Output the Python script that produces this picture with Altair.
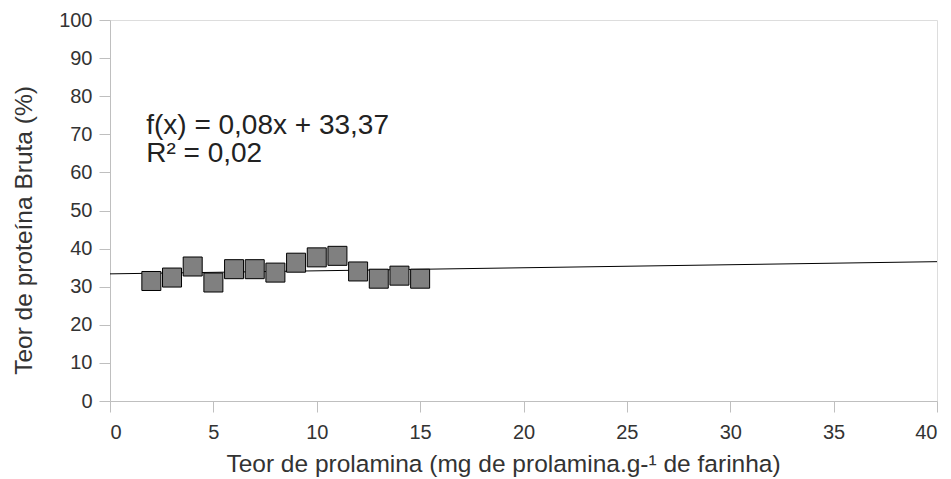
import altair as alt
import pandas as pd

x_vals = [2, 3, 4, 5, 6, 7, 8, 9, 10, 11, 12, 13, 14, 15]
y_vals = [31.5, 32.4, 35.3, 31.1, 34.6, 34.6, 33.7, 36.3, 37.7, 38.1, 34.0, 32.1, 32.9, 32.1]
slope = 0.08
intercept = 33.37
trend_x = [0, 40]
x_ticks = [0, 5, 10, 15, 20, 25, 30, 35, 40]
y_ticks = [0, 10, 20, 30, 40, 50, 60, 70, 80, 90, 100]
eq_lines = ["f(x) = 0,08x + 33,37", "R² = 0,02"]
eq_x = [1.75, 1.75]
eq_y = [70.2, 62.7]

pts = pd.DataFrame({"x": x_vals, "y": y_vals})
trend = pd.DataFrame({"x": trend_x, "y": [intercept + slope * v for v in trend_x]})
eq = pd.DataFrame({"x": eq_x, "y": eq_y, "t": eq_lines})

FONT = "Liberation Sans"
xs = alt.Scale(domain=[0, 40], nice=False, zero=False)
ys = alt.Scale(domain=[0, 100], nice=False)
XT = "Teor de prolamina (mg de prolamina.g-¹ de farinha)"
YT = "Teor de proteína Bruta (%)"

x_axis = alt.Axis(values=x_ticks, labelOverlap=False, titlePadding=10, labelPadding=10,
                  titleX=393, titleAlign="center", titleFontSize=24.5)
y_axis = alt.Axis(values=y_ticks, labelOverlap=False, titlePadding=22, labelPadding=7,
                  titleY=210, titleAlign="center", titleFontSize=24.5)

line = alt.Chart(trend).mark_line(color="#000000", strokeWidth=1).encode(
    x=alt.X("x:Q", scale=xs, axis=x_axis, title=XT),
    y=alt.Y("y:Q", scale=ys, axis=y_axis, title=YT),
)

squares = alt.Chart(pts).mark_square(size=361, fill="#808080", fillOpacity=1, stroke="#000000",
                                     strokeWidth=1).encode(
    x=alt.X("x:Q", scale=xs, axis=x_axis, title=XT),
    y=alt.Y("y:Q", scale=ys, axis=y_axis, title=YT),
)

text = alt.Chart(eq).mark_text(align="left", baseline="alphabetic", font=FONT, fontSize=28,
                               color="#222222").encode(
    x=alt.X("x:Q", scale=xs, axis=x_axis, title=XT),
    y=alt.Y("y:Q", scale=ys, axis=y_axis, title=YT),
    text="t:N",
)

chart = alt.layer(line, squares, text).properties(
    width=827, height=381,
    autosize=alt.AutoSizeParams(type="none"),
    padding={"left": 102, "top": 12, "right": 6, "bottom": 78},
).configure_view(stroke="#bfbfbf", strokeWidth=1).configure(background="white").configure_axis(
    grid=False, tickSize=11, tickColor="#bfbfbf", domainColor="#bfbfbf",
    labelFontSize=20, labelColor="#333333", labelFont=FONT,
    titleFont=FONT, titleFontWeight="normal", titleColor="#333333",
)

chart.save("out.html", embed_options={"renderer": "svg", "actions": False})
